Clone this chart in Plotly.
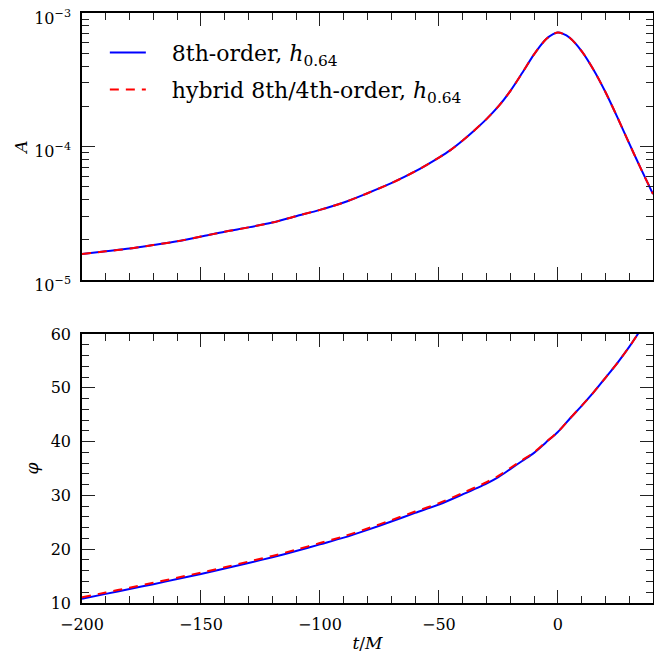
import plotly.graph_objects as go

# ---- data ----
t_amp = [-200, -190, -180, -170, -160, -150, -140, -130, -120, -110, -100, -90, -80, -70, -60,
         -50, -45, -40, -35, -30, -25, -20, -15, -10, -5, -2, 0, 2, 5, 10, 15, 20, 25, 30, 35, 40]
amp_8th = [1.567e-5, 1.641e-5, 1.718e-5, 1.828e-5, 1.950e-5, 2.113e-5, 2.301e-5, 2.477e-5,
           2.692e-5, 3.006e-5, 3.350e-5, 3.802e-5, 4.467e-5, 5.309e-5, 6.501e-5, 8.260e-5,
           9.441e-5, 1.109e-4, 1.324e-4, 1.603e-4, 1.995e-4, 2.600e-4, 3.548e-4, 4.898e-4,
           6.353e-4, 6.950e-4, 7.129e-4, 6.998e-4, 6.531e-4, 5.188e-4, 3.758e-4, 2.559e-4,
           1.660e-4, 1.054e-4, 6.761e-5, 4.406e-5]
amp_hybrid = [1.567e-5, 1.641e-5, 1.718e-5, 1.828e-5, 1.950e-5, 2.113e-5, 2.301e-5, 2.477e-5,
              2.692e-5, 3.006e-5, 3.350e-5, 3.802e-5, 4.467e-5, 5.309e-5, 6.501e-5, 8.260e-5,
              9.441e-5, 1.109e-4, 1.324e-4, 1.603e-4, 1.995e-4, 2.600e-4, 3.548e-4, 4.898e-4,
              6.353e-4, 6.950e-4, 7.129e-4, 6.998e-4, 6.531e-4, 5.188e-4, 3.758e-4, 2.559e-4,
              1.660e-4, 1.054e-4, 6.761e-5, 4.406e-5]

t_phase = [-200, -190, -180, -170, -160, -150, -140, -130, -120, -110, -100, -90, -80, -70,
           -60, -50, -40, -30, -25, -20, -15, -10, -5, 0, 5, 10, 15, 20, 25, 30, 35, 40]
phase_8th = [10.8, 11.7, 12.6, 13.5, 14.45, 15.4, 16.4, 17.45, 18.5, 19.65, 20.9, 22.15, 23.6,
             25.15, 26.75, 28.3, 30.2, 32.2, 33.4, 34.9, 36.4, 37.9, 39.85, 41.8, 44.25, 46.65,
             49.15, 51.85, 54.6, 57.6, 60.9, 64.2]
phase_hybrid = [11.05, 11.95, 12.85, 13.75, 14.7, 15.65, 16.65, 17.7, 18.75, 19.9, 21.15, 22.4,
                23.85, 25.4, 27.0, 28.55, 30.45, 32.45, 33.62, 35.1, 36.55, 38.0, 39.9, 41.8,
                44.25, 46.65, 49.15, 51.85, 54.6, 57.6, 60.9, 64.2]

name_8th = "&nbsp;&nbsp;&nbsp;8th-order, <i>h</i><sub>0.64</sub>"
name_hybrid = "&nbsp;&nbsp;&nbsp;hybrid 8th/4th-order, <i>h</i><sub>0.64</sub>"

x_ticks = [-200, -150, -100, -50, 0]
x_ticktext = ["\u2212200", "\u2212150", "\u2212100", "\u221250", "0"]
amp_ticks = [1e-5, 1e-4, 1e-3]
amp_ticktext = ["10<sup>\u22125</sup>", "10<sup>\u22124</sup>", "10<sup>\u22123</sup>"]
amp_minor = [2e-5, 3e-5, 4e-5, 5e-5, 6e-5, 7e-5, 8e-5, 9e-5,
             2e-4, 3e-4, 4e-4, 5e-4, 6e-4, 7e-4, 8e-4, 9e-4]
phase_ticks = [10, 20, 30, 40, 50, 60]

FONT = "DejaVu Serif"
BLUE = "#0000ff"
RED = "#ff0000"
DASH = "9px,7px"

fig = go.Figure()
fig.add_trace(go.Scatter(x=t_amp, y=amp_8th, mode="lines", name=name_8th,
                         line=dict(color=BLUE, width=2, shape="spline", smoothing=0.8),
                         xaxis="x", yaxis="y", legend="legend"))
fig.add_trace(go.Scatter(x=t_amp, y=amp_hybrid, mode="lines", name=name_hybrid,
                         line=dict(color=RED, width=2, dash=DASH, shape="spline", smoothing=0.8),
                         xaxis="x", yaxis="y", legend="legend2"))
fig.add_trace(go.Scatter(x=t_phase, y=phase_8th, mode="lines", showlegend=False,
                         line=dict(color=BLUE, width=2, shape="spline", smoothing=0.8),
                         xaxis="x2", yaxis="y2"))
fig.add_trace(go.Scatter(x=t_phase, y=phase_hybrid, mode="lines", showlegend=False,
                         line=dict(color=RED, width=2, dash=DASH, shape="spline", smoothing=0.8),
                         xaxis="x2", yaxis="y2"))

common = dict(showgrid=False, zeroline=False, showline=True, linecolor="black", linewidth=1.5,
              mirror="ticks", ticks="inside", tickcolor="#222", tickwidth=1, automargin=False,
              ticklabeloverflow="allow")
minor_style = dict(ticks="inside", ticklen=7, tickcolor="#222", tickwidth=1)

fig.update_layout(
    width=654, height=650,
    margin=dict(l=74, r=9, t=5, b=55),
    paper_bgcolor="white", plot_bgcolor="white",
    font=dict(family=FONT, size=16, color="black"),
    xaxis=dict(**common, domain=[0, 1], range=[-200, 40], anchor="y",
               tickvals=x_ticks, showticklabels=False, ticklen=13,
               minor=dict(dtick=10, tick0=0, **minor_style)),
    yaxis=dict(**common, domain=[0.5475, 1], type="log", range=[-5, -3], anchor="x",
               tickvals=amp_ticks, ticktext=amp_ticktext, ticklen=13, ticklabelstandoff=6,
               ticklabelshift=5,
               minor=dict(tickmode="array", tickvals=amp_minor, **minor_style),
               title=dict(text="<i>A</i>", font=dict(size=17), standoff=2)),
    xaxis2=dict(**common, domain=[0, 1], range=[-200, 40], anchor="y2",
                tickvals=x_ticks, ticktext=x_ticktext, ticklen=13, ticklabelstandoff=6,
                minor=dict(dtick=10, tick0=0, **minor_style),
                title=dict(text="<i>t</i>/<i>M</i>", font=dict(size=17), standoff=4)),
    yaxis2=dict(**common, domain=[0, 0.4559], range=[10, 60], anchor="x2",
                tickvals=phase_ticks, ticklen=13, ticklabelstandoff=6,
                minor=dict(dtick=2, tick0=0, **minor_style),
                title=dict(text="<i>\u03c6</i>", font=dict(size=17), standoff=8)),
    legend=dict(x=0.040, y=0.9326, xanchor="left", yanchor="middle", bgcolor="rgba(0,0,0,0)",
                font=dict(size=22), borderwidth=0, itemwidth=36),
    legend2=dict(x=0.040, y=0.8699, xanchor="left", yanchor="middle", bgcolor="rgba(0,0,0,0)",
                 font=dict(size=22), borderwidth=0, itemwidth=36),
)

fig.write_html("out.html")
